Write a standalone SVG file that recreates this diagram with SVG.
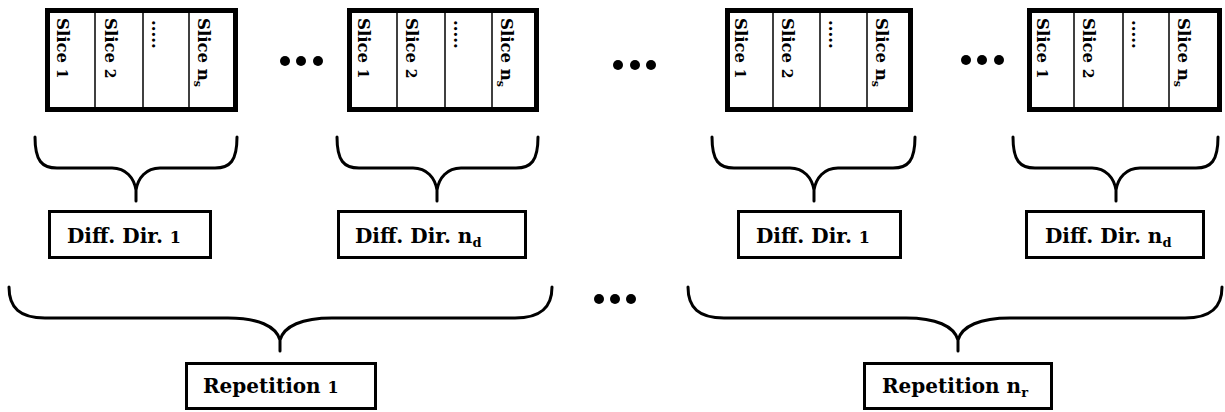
<svg xmlns="http://www.w3.org/2000/svg" width="1225" height="412" viewBox="0 0 1225 412">
  <style>
    .frame { fill: #fff; stroke: #000; stroke-width: 5; }
    .div { stroke: #000; stroke-width: 1.5; }
    .box { fill: #fff; stroke: #000; stroke-width: 3; }
    .brace { fill: none; stroke: #000; stroke-width: 3; stroke-linecap: round; stroke-linejoin: round; }
    .slice { font-family: "DejaVu Serif", "Liberation Serif", serif; font-weight: bold; font-size: 16.5px; fill: #000; }
    .lbl { font-family: "DejaVu Serif", "Liberation Serif", serif; font-weight: bold; font-size: 20px; fill: #000; }
    .dig { font-size: 14px; }
    .ldig { font-size: 16px; }
    .sub { font-size: 11px; }
    .lsub { font-size: 13px; }
    .dot { fill: #000; }
  </style>
  <rect width="1225" height="412" fill="#fff"/>

  <!-- slice stacks -->
  <g id="stack1">
    <rect class="frame" x="47.5" y="10.5" width="188" height="99"/>
    <line class="div" x1="95" y1="10" x2="95" y2="110"/>
    <line class="div" x1="143" y1="10" x2="143" y2="110"/>
    <line class="div" x1="189" y1="10" x2="189" y2="110"/>
    <text class="slice" transform="translate(57,18) rotate(90)">Slice <tspan class="dig">1</tspan></text>
    <text class="slice" transform="translate(105,18) rotate(90)">Slice <tspan class="dig">2</tspan></text>
    <text class="slice" transform="translate(152,20) rotate(90)">.....</text>
    <text class="slice" transform="translate(198,18) rotate(90)">Slice n<tspan class="sub" dy="4">s</tspan></text>
  </g>
  <g id="stack2">
    <rect class="frame" x="349.5" y="10.5" width="187" height="99"/>
    <line class="div" x1="397" y1="10" x2="397" y2="110"/>
    <line class="div" x1="445" y1="10" x2="445" y2="110"/>
    <line class="div" x1="492" y1="10" x2="492" y2="110"/>
    <text class="slice" transform="translate(358,18) rotate(90)">Slice <tspan class="dig">1</tspan></text>
    <text class="slice" transform="translate(406,18) rotate(90)">Slice <tspan class="dig">2</tspan></text>
    <text class="slice" transform="translate(454,20) rotate(90)">.....</text>
    <text class="slice" transform="translate(501,18) rotate(90)">Slice n<tspan class="sub" dy="4">s</tspan></text>
  </g>
  <g id="stack3">
    <rect class="frame" x="727.5" y="10.5" width="183" height="99"/>
    <line class="div" x1="773" y1="10" x2="773" y2="110"/>
    <line class="div" x1="820" y1="10" x2="820" y2="110"/>
    <line class="div" x1="867" y1="10" x2="867" y2="110"/>
    <text class="slice" transform="translate(735,18) rotate(90)">Slice <tspan class="dig">1</tspan></text>
    <text class="slice" transform="translate(782,18) rotate(90)">Slice <tspan class="dig">2</tspan></text>
    <text class="slice" transform="translate(829,20) rotate(90)">.....</text>
    <text class="slice" transform="translate(876,18) rotate(90)">Slice n<tspan class="sub" dy="4">s</tspan></text>
  </g>
  <g id="stack4">
    <rect class="frame" x="1029.5" y="10.5" width="190" height="99"/>
    <line class="div" x1="1074" y1="10" x2="1074" y2="110"/>
    <line class="div" x1="1123" y1="10" x2="1123" y2="110"/>
    <line class="div" x1="1169" y1="10" x2="1169" y2="110"/>
    <text class="slice" transform="translate(1037,18) rotate(90)">Slice <tspan class="dig">1</tspan></text>
    <text class="slice" transform="translate(1083,18) rotate(90)">Slice <tspan class="dig">2</tspan></text>
    <text class="slice" transform="translate(1132,20) rotate(90)">.....</text>
    <text class="slice" transform="translate(1178,18) rotate(90)">Slice n<tspan class="sub" dy="4">s</tspan></text>
  </g>

  <!-- ellipses between stacks -->
  <g id="gaps">
    <circle class="dot" cx="285" cy="61" r="5"/><circle class="dot" cx="301" cy="61" r="5"/><circle class="dot" cx="318" cy="61" r="5"/>
    <circle class="dot" cx="618" cy="65" r="5"/><circle class="dot" cx="635" cy="65" r="5"/><circle class="dot" cx="651" cy="65" r="5"/>
    <circle class="dot" cx="966" cy="60" r="5"/><circle class="dot" cx="982" cy="60" r="5"/><circle class="dot" cx="999" cy="60" r="5"/>
    <circle class="dot" cx="599" cy="299" r="5"/><circle class="dot" cx="615" cy="299" r="5"/><circle class="dot" cx="631" cy="299" r="5"/>
  </g>

  <!-- braces -->
  <g id="connectors">
    <path class="brace" d="M35,137 C35,161 42,168 57,168 L112,168 C126,168 134,178 136,190 L136,201 M136,190 C138,178 146,168 160,168 L215,168 C230,168 237,161 237,137"/>
    <path class="brace" d="M337,137 C337,161 344,168 359,168 L413,168 C427,168 435,178 437,190 L437,201 M437,190 C439,178 447,168 461,168 L516,168 C531,168 538,161 538,137"/>
    <path class="brace" d="M712,137 C712,161 719,168 734,168 L790,168 C804,168 812,178 814,190 L814,201 M814,190 C816,178 824,168 838,168 L893,168 C908,168 915,161 915,137"/>
    <path class="brace" d="M1013,137 C1013,161 1020,168 1035,168 L1092,168 C1106,168 1114,178 1116,190 L1116,201 M1116,190 C1118,178 1126,168 1140,168 L1196,168 C1211,168 1218,161 1218,137"/>
    <path class="brace" d="M9,287 C9,308 20,318 45,318 L228,318 C258,318 276,326 280,340 L280,351 M280,340 C284,326 302,318 332,318 L515,318 C540,318 552,308 552,287"/>
    <path class="brace" d="M688,287 C688,308 699,318 724,318 L906,318 C936,318 954,326 958,340 L958,351 M958,340 C962,326 980,318 1010,318 L1185,318 C1210,318 1222,308 1222,287"/>
  </g>

  <!-- direction labels -->
  <g id="dir1a">
    <rect class="box" x="49.5" y="211.5" width="161" height="46"/>
    <text class="lbl" x="67" y="243">Diff. Dir. <tspan class="ldig">1</tspan></text>
  </g>
  <g id="dir-nd-a">
    <rect class="box" x="338.5" y="211.5" width="187" height="46"/>
    <text class="lbl" x="355" y="243">Diff. Dir. n<tspan class="lsub" dy="4">d</tspan></text>
  </g>
  <g id="dir1b">
    <rect class="box" x="738.5" y="211.5" width="162" height="46"/>
    <text class="lbl" x="756" y="243">Diff. Dir. <tspan class="ldig">1</tspan></text>
  </g>
  <g id="dir-nd-b">
    <rect class="box" x="1026.5" y="211.5" width="177" height="46"/>
    <text class="lbl" x="1045" y="243">Diff. Dir. n<tspan class="lsub" dy="4">d</tspan></text>
  </g>

  <!-- repetition labels -->
  <g id="rep1">
    <rect class="box" x="186.5" y="363.5" width="189" height="45"/>
    <text class="lbl" x="203" y="393">Repetition <tspan class="ldig">1</tspan></text>
  </g>
  <g id="rep-nr">
    <rect class="box" x="864.5" y="363.5" width="187" height="45"/>
    <text class="lbl" x="882" y="393">Repetition n<tspan class="lsub" dy="4">r</tspan></text>
  </g>
</svg>
